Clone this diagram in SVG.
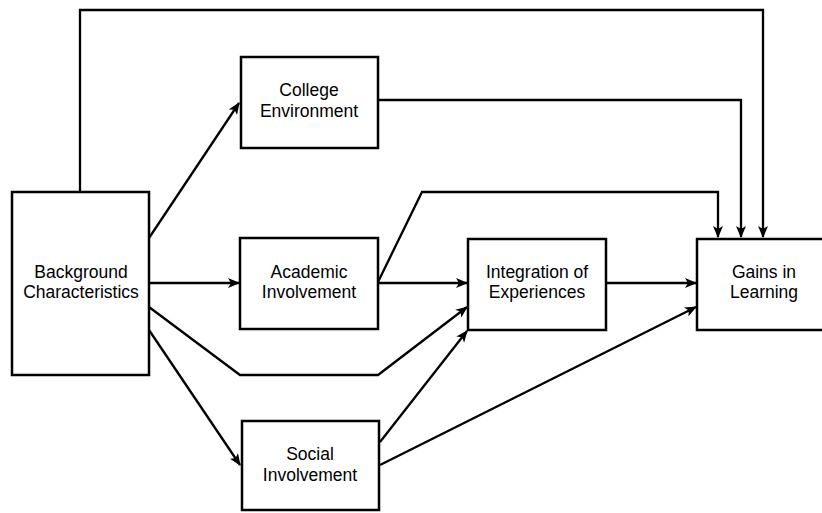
<svg xmlns="http://www.w3.org/2000/svg" width="822" height="513" viewBox="0 0 822 513">
<defs>
<style>
.box{fill:#fff;stroke:#000;stroke-width:2.5}
.lbl{font-family:"Liberation Sans",Arial,sans-serif;font-size:17.5px;fill:#000;text-anchor:middle}
.edge{fill:none;stroke:#000;stroke-width:2.3;stroke-linejoin:miter}
</style>
<marker id="ah" viewBox="0 0 12 10" refX="11" refY="5" markerWidth="12" markerHeight="10" markerUnits="userSpaceOnUse" orient="auto">
<path d="M0,0 L12,5 L0,10 L3,5 Z" fill="#000"/>
</marker>
</defs>
<rect width="822" height="513" fill="#fff"/>
<g id="connectors">
<path class="edge" d="M80,192 V10 H763 V237" marker-end="url(#ah)"/>
<path class="edge" d="M378,100 H741 V237" marker-end="url(#ah)"/>
<path class="edge" d="M378,282 L422,192 H718 V237" marker-end="url(#ah)"/>
<path class="edge" d="M149,238 L239,103" marker-end="url(#ah)"/>
<path class="edge" d="M149,283 H239" marker-end="url(#ah)"/>
<path class="edge" d="M149,307 L240,375 H378 L467,307" marker-end="url(#ah)"/>
<path class="edge" d="M149,330 L240,465" marker-end="url(#ah)"/>
<path class="edge" d="M378,283 H467" marker-end="url(#ah)"/>
<path class="edge" d="M380,442 L467,331" marker-end="url(#ah)"/>
<path class="edge" d="M380,465 L696,307" marker-end="url(#ah)"/>
<path class="edge" d="M606,283 H696" marker-end="url(#ah)"/>
</g>
<g id="background">
<rect class="box" x="12" y="192" width="137" height="183"/>
<text class="lbl" x="81" y="278">Background</text>
<text class="lbl" x="81" y="298">Characteristics</text>
</g>
<g id="college">
<rect class="box" x="241" y="57" width="137" height="91"/>
<text class="lbl" x="309" y="96">College</text>
<text class="lbl" x="309" y="117">Environment</text>
</g>
<g id="academic">
<rect class="box" x="240" y="238" width="138" height="91"/>
<text class="lbl" x="309" y="278">Academic</text>
<text class="lbl" x="309" y="298">Involvement</text>
</g>
<g id="social">
<rect class="box" x="242" y="421" width="137" height="89"/>
<text class="lbl" x="310" y="460">Social</text>
<text class="lbl" x="310" y="481">Involvement</text>
</g>
<g id="integration">
<rect class="box" x="468" y="239" width="138" height="91"/>
<text class="lbl" x="537" y="278">Integration of</text>
<text class="lbl" x="537" y="298">Experiences</text>
</g>
<g id="gains">
<rect class="box" x="697" y="239" width="140" height="91"/>
<text class="lbl" x="764" y="278">Gains in</text>
<text class="lbl" x="764" y="298">Learning</text>
</g>
</svg>
